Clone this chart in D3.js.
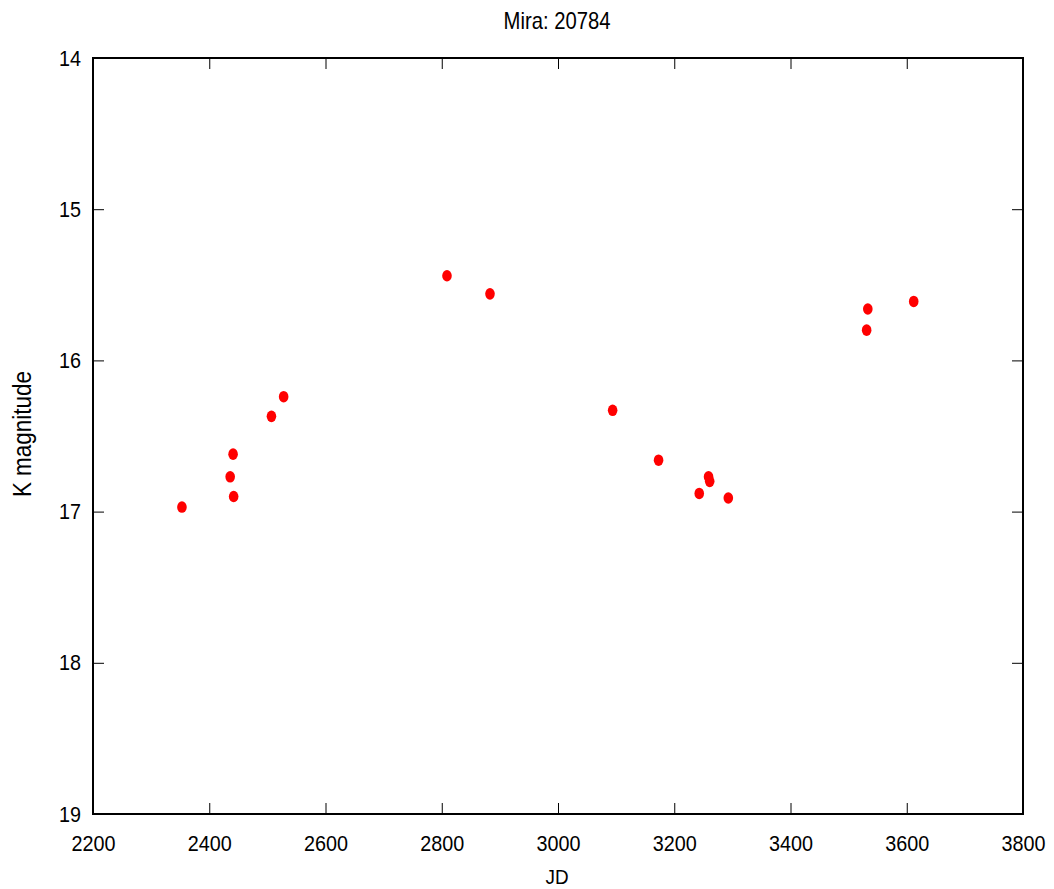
<!DOCTYPE html>
<html>
<head>
<meta charset="utf-8">
<script src="https://cdn.jsdelivr.net/npm/d3@7"></script>
<style>
  html, body { margin: 0; padding: 0; background: #fff; }
  svg { display: block; }
  .lbl { font-family: "Liberation Sans", Arial, sans-serif; fill: #000; }
</style>
</head>
<body>
<svg id="chart" width="1054" height="889"></svg>
<script>
// Observations of the Mira variable: Julian date (offset) and K-band magnitude
const jd  = [2353, 2436, 2441, 2442, 2507, 2528, 2809, 2883, 3094, 3173, 3243, 3259, 3261, 3293, 3531, 3533, 3612];
const kmag = [16.97, 16.77, 16.62, 16.90, 16.37, 16.24, 15.44, 15.56, 16.33, 16.66, 16.88, 16.77, 16.80, 16.91, 15.80, 15.66, 15.61];

const xTicks = [2200, 2400, 2600, 2800, 3000, 3200, 3400, 3600, 3800];
const yTicks = [14, 15, 16, 17, 18, 19];

const titleText = "Mira: 20784";
const xLabel = "JD";
const yLabel = "K magnitude";

const margin = { left: 93, right: 31, top: 58, bottom: 75 };
const W = 1054, H = 889;
const squeeze = 0.9; // slightly condensed lettering

const svg = d3.select("#chart");

const x = d3.scaleLinear().domain([2200, 3800]).range([margin.left, W - margin.right]);
// magnitudes increase downward
const y = d3.scaleLinear().domain([14, 19]).range([margin.top, H - margin.bottom]);

const tickLen = 11;

// inward ticks on all four sides
const axisBottom = d3.axisBottom(x).tickValues(xTicks).tickSize(-tickLen).tickPadding(21).tickFormat(d3.format("d"));
const axisTop = d3.axisTop(x).tickValues(xTicks).tickSize(-tickLen).tickFormat("");
const axisLeft = d3.axisLeft(y).tickValues(yTicks).tickSize(-tickLen).tickFormat(d3.format("d"));
const axisRight = d3.axisRight(y).tickValues(yTicks).tickSize(-tickLen).tickFormat("");

function style(g) {
  g.select(".domain").remove();
  g.selectAll(".tick line").attr("stroke", "#000").attr("stroke-width", 1);
  g.selectAll(".tick text").attr("class", "lbl").style("font-size", "22px");
}

svg.append("g").attr("transform", `translate(0,${y.range()[1]})`).call(axisBottom).call(style)
  .selectAll(".tick text").attr("transform", `scale(${squeeze},1)`);
svg.append("g").attr("transform", `translate(0,${y.range()[0]})`).call(axisTop).call(style);
svg.append("g").attr("transform", `translate(${x.range()[0]},0)`).call(axisLeft).call(style)
  .selectAll(".tick text").attr("x", 0).attr("transform", `translate(-12,0) scale(${squeeze},1)`);
svg.append("g").attr("transform", `translate(${x.range()[1]},0)`).call(axisRight).call(style);

// frame
svg.append("rect")
  .attr("x", x.range()[0]).attr("y", y.range()[0])
  .attr("width", x.range()[1] - x.range()[0])
  .attr("height", y.range()[1] - y.range()[0])
  .attr("fill", "none").attr("stroke", "#000").attr("stroke-width", 2);

// data points
svg.append("g").selectAll("ellipse")
  .data(jd.map((d, i) => [d, kmag[i]]))
  .join("ellipse")
  .attr("cx", d => x(d[0]))
  .attr("cy", d => y(d[1]))
  .attr("rx", 4.8).attr("ry", 5.8)
  .attr("fill", "#ff0000");

// title and axis labels
svg.append("text").attr("class", "lbl")
  .attr("transform", `translate(557,29) scale(0.88,1)`)
  .attr("text-anchor", "middle")
  .style("font-size", "23px").text(titleText);

svg.append("text").attr("class", "lbl")
  .attr("transform", `translate(557,884) scale(${squeeze},1)`)
  .attr("text-anchor", "middle")
  .style("font-size", "21px").text(xLabel);

svg.append("text").attr("class", "lbl")
  .attr("transform", `translate(31,434) rotate(-90) scale(${squeeze},1)`)
  .attr("text-anchor", "middle")
  .style("font-size", "25px").text(yLabel);
</script>
</body>
</html>
